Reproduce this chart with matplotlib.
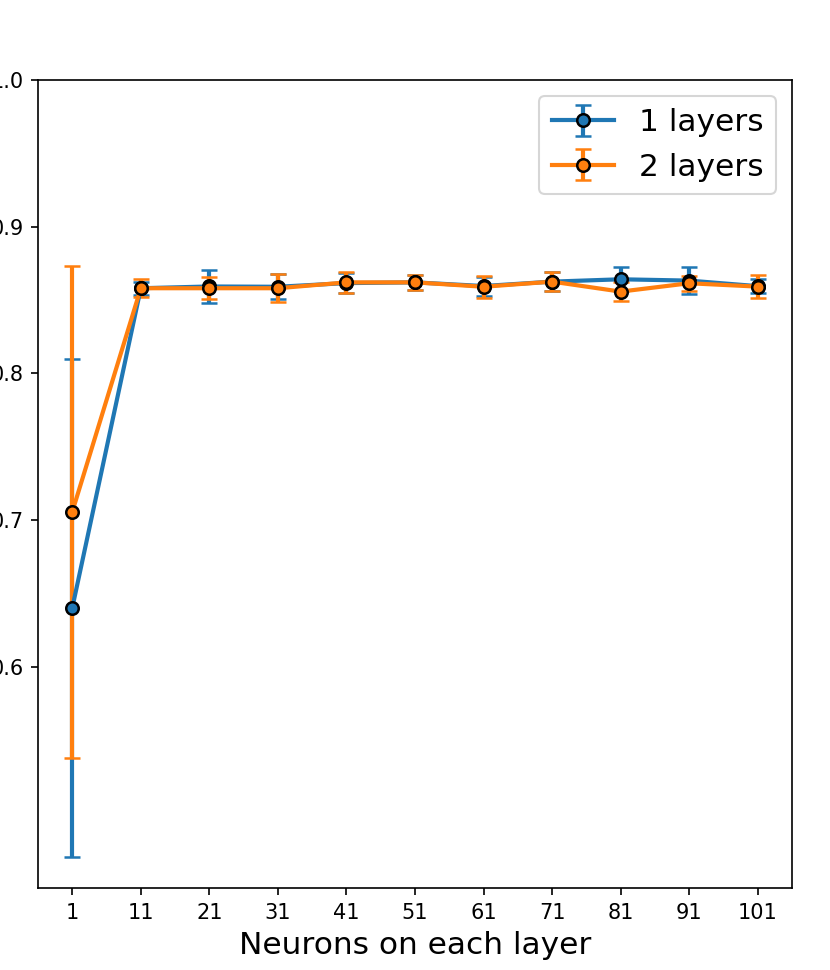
import numpy as np
import matplotlib
matplotlib.use("Agg")
import matplotlib.pyplot as plt

# neurons per layer
neurons = [1, 11, 21, 31, 41, 51, 61, 71, 81, 91, 101]

# mean accuracy and std
acc_1 = [0.640, 0.858, 0.8592, 0.859, 0.8615, 0.862, 0.8595, 0.8625, 0.8641, 0.8632, 0.8594]
std_1 = [0.170, 0.0045, 0.0113, 0.0085, 0.007, 0.005, 0.0065, 0.0067, 0.0082, 0.009, 0.0048]

acc_2 = [0.7055, 0.858, 0.858, 0.858, 0.862, 0.862, 0.859, 0.8625, 0.8557, 0.8614, 0.8591]
std_2 = [0.168, 0.006, 0.0075, 0.0095, 0.007, 0.005, 0.0075, 0.0067, 0.0063, 0.005, 0.0078]

fig = plt.figure(figsize=(830/150, 970/150), dpi=150)
ax = fig.add_axes([38/830, 1-888/970, (792-38)/830, (888-80)/970])

ax.errorbar(neurons, acc_1, yerr=std_1, fmt='-o', capsize=4, lw=2,
            markeredgecolor='k', markeredgewidth=1.2, markersize=6,
            label='1 layers')
ax.errorbar(neurons, acc_2, yerr=std_2, fmt='-o', capsize=4, lw=2,
            markeredgecolor='k', markeredgewidth=1.2, markersize=6,
            label='2 layers')

ax.set_xticks(neurons)
ax.set_yticks([0.6, 0.7, 0.8, 0.9, 1.0])
ax.set_ylim(0.449, 1.0)
ax.set_xlabel('Neurons on each layer', fontsize=15)
ax.legend(loc='upper right', fontsize=15)

fig.savefig('out.png', dpi=150)
